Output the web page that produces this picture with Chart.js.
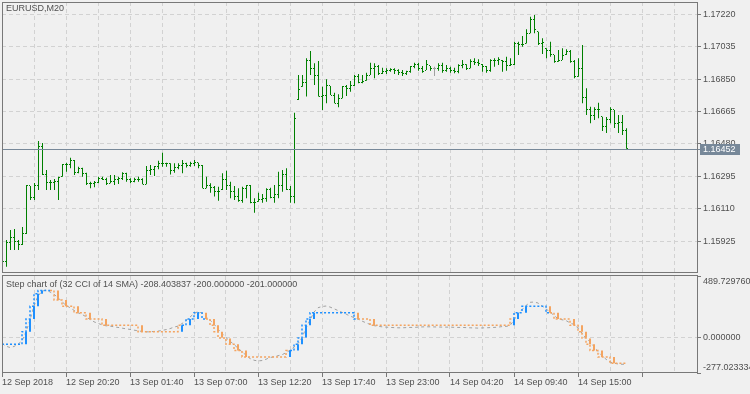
<!DOCTYPE html>
<html><head><meta charset="utf-8">
<script src="https://cdn.jsdelivr.net/npm/chart.js@4.4.1/dist/chart.umd.min.js"></script>
<style>
html,body{margin:0;padding:0;background:#f0f0f0;width:750px;height:394px;overflow:hidden;}
#wrap{position:relative;width:750px;height:394px;}
canvas{position:absolute;left:0;}
#c1{top:0}
#c2{top:274px}
.ttl{position:absolute;font:9px "Liberation Sans",Arial,sans-serif;color:#505050;white-space:nowrap;line-height:11px;}
</style></head><body>
<div id="wrap">
<canvas id="c1" width="750" height="274"></canvas>
<canvas id="c2" width="750" height="120"></canvas>
<div class="ttl" style="left:6px;top:3px">EURUSD,M20</div>
<div class="ttl" style="left:6px;top:279px">Step chart of (32 CCI of 14 SMA) -208.403837 -200.000000 -201.000000</div>
</div>
<script>
// ---------- data ----------
const timeLabels = ['12 Sep 2018','12 Sep 20:20','13 Sep 01:40','13 Sep 07:00','13 Sep 12:20','13 Sep 17:40','13 Sep 23:00','14 Sep 04:20','14 Sep 09:40','14 Sep 15:00'];
const gridBars = [0,8,16,24,32,40,48,56,64,72,80,88,96,104,112,120,128,136,144,152,160,168];
const priceTicks = [1.15925,1.16110,1.16295,1.16480,1.16665,1.16850,1.17035,1.17220];
const cciTicks = [-277.023334,0,489.72976];

const openP = [1.15840,1.15807,1.15916,1.15943,1.15922,1.15903,1.15971,1.16240,1.16173,1.16245,
1.16464,1.16308,1.16257,1.16259,1.16264,1.16293,1.16360,1.16364,1.16384,1.16318,
1.16337,1.16312,1.16255,1.16252,1.16261,1.16284,1.16278,1.16255,1.16264,1.16274,
1.16280,1.16312,1.16278,1.16264,1.16274,1.16278,1.16249,1.16331,1.16335,1.16350,
1.16369,1.16366,1.16369,1.16331,1.16344,1.16356,1.16369,1.16354,1.16369,1.16372,
1.16354,1.16227,1.16245,1.16232,1.16207,1.16217,1.16274,1.16245,1.16207,1.16179,
1.16156,1.16227,1.16240,1.16144,1.16150,1.16164,1.16169,1.16217,1.16175,1.16192,
1.16245,1.16306,1.16217,1.16179,1.16731,1.16807,1.16830,1.16959,1.16912,1.16873,
1.16750,1.16754,1.16811,1.16759,1.16712,1.16740,1.16807,1.16798,1.16816,1.16864,
1.16830,1.16841,1.16873,1.16912,1.16921,1.16883,1.16892,1.16898,1.16906,1.16902,
1.16887,1.16883,1.16896,1.16921,1.16936,1.16912,1.16902,1.16925,1.16912,1.16912,
1.16927,1.16902,1.16912,1.16902,1.16892,1.16925,1.16931,1.16912,1.16949,1.16944,
1.16936,1.16921,1.16902,1.16955,1.16959,1.16959,1.16949,1.16925,1.16931,1.17054,
1.17050,1.17054,1.17112,1.17193,1.17121,1.17054,1.17026,1.17016,1.16988,1.16949,
1.16955,1.16988,1.17007,1.16949,1.16864,1.16912,1.16746,1.16674,1.16645,1.16678,
1.16635,1.16578,1.16617,1.16674,1.16599,1.16605,1.16559];
const highP = [1.15846,1.15931,1.15988,1.15994,1.15931,1.16006,1.16245,1.16240,1.16257,1.16497,
1.16485,1.16331,1.16274,1.16280,1.16293,1.16365,1.16373,1.16401,1.16388,1.16350,
1.16344,1.16316,1.16264,1.16268,1.16293,1.16293,1.16287,1.16302,1.16302,1.16293,
1.16318,1.16316,1.16284,1.16287,1.16293,1.16284,1.16354,1.16360,1.16354,1.16384,
1.16430,1.16373,1.16369,1.16369,1.16369,1.16388,1.16373,1.16378,1.16388,1.16373,
1.16360,1.16293,1.16255,1.16240,1.16236,1.16312,1.16327,1.16264,1.16240,1.16227,
1.16236,1.16245,1.16245,1.16169,1.16201,1.16194,1.16227,1.16230,1.16245,1.16321,
1.16331,1.16341,1.16240,1.16658,1.16873,1.16873,1.16969,1.17010,1.16940,1.16953,
1.16807,1.16849,1.16811,1.16772,1.16763,1.16811,1.16816,1.16839,1.16873,1.16879,
1.16873,1.16887,1.16944,1.16940,1.16931,1.16915,1.16912,1.16912,1.16912,1.16906,
1.16902,1.16898,1.16925,1.16944,1.16944,1.16925,1.16959,1.16925,1.16921,1.16940,
1.16944,1.16931,1.16921,1.16915,1.16935,1.16959,1.16935,1.16963,1.16969,1.16963,
1.16936,1.16925,1.16963,1.16969,1.16975,1.16959,1.16978,1.16969,1.17064,1.17064,
1.17096,1.17134,1.17206,1.17216,1.17121,1.17083,1.17026,1.17064,1.16988,1.17016,
1.17026,1.17020,1.17016,1.16959,1.16969,1.17045,1.16798,1.16692,1.16689,1.16715,
1.16635,1.16634,1.16689,1.16674,1.16645,1.16645,1.16569];
const lowP = [1.15771,1.15779,1.15874,1.15874,1.15874,1.15903,1.15966,1.16160,1.16160,1.16217,
1.16302,1.16217,1.16217,1.16217,1.16160,1.16293,1.16321,1.16341,1.16302,1.16312,
1.16293,1.16245,1.16227,1.16232,1.16255,1.16274,1.16245,1.16255,1.16245,1.16251,
1.16274,1.16264,1.16255,1.16261,1.16264,1.16249,1.16249,1.16302,1.16297,1.16335,
1.16350,1.16350,1.16306,1.16316,1.16335,1.16312,1.16346,1.16350,1.16354,1.16341,
1.16227,1.16227,1.16201,1.16179,1.16156,1.16217,1.16217,1.16169,1.16160,1.16150,
1.16144,1.16169,1.16141,1.16087,1.16150,1.16144,1.16150,1.16169,1.16144,1.16169,
1.16207,1.16217,1.16144,1.16141,1.16731,1.16807,1.16750,1.16873,1.16816,1.16750,
1.16674,1.16712,1.16759,1.16712,1.16689,1.16740,1.16754,1.16778,1.16811,1.16826,
1.16826,1.16841,1.16873,1.16855,1.16873,1.16879,1.16879,1.16892,1.16879,1.16873,
1.16868,1.16873,1.16887,1.16912,1.16898,1.16887,1.16902,1.16898,1.16868,1.16898,
1.16887,1.16892,1.16887,1.16883,1.16883,1.16912,1.16902,1.16912,1.16931,1.16925,
1.16892,1.16887,1.16892,1.16921,1.16931,1.16892,1.16898,1.16925,1.16931,1.16988,
1.17035,1.17054,1.17112,1.17112,1.17045,1.16993,1.16969,1.16978,1.16944,1.16949,
1.16959,1.16988,1.16944,1.16855,1.16864,1.16712,1.16645,1.16598,1.16617,1.16626,
1.16554,1.16542,1.16598,1.16571,1.16542,1.16531,1.16452];
const closeP = [1.15807,1.15916,1.15943,1.15922,1.15903,1.15971,1.16245,1.16173,1.16245,1.16464,
1.16308,1.16257,1.16259,1.16264,1.16287,1.16360,1.16364,1.16384,1.16318,1.16337,
1.16312,1.16255,1.16252,1.16261,1.16284,1.16278,1.16255,1.16264,1.16274,1.16280,
1.16312,1.16278,1.16264,1.16274,1.16278,1.16249,1.16331,1.16335,1.16350,1.16369,
1.16366,1.16369,1.16331,1.16344,1.16356,1.16369,1.16354,1.16369,1.16372,1.16354,
1.16227,1.16245,1.16232,1.16207,1.16210,1.16274,1.16245,1.16207,1.16179,1.16156,
1.16227,1.16240,1.16144,1.16147,1.16164,1.16169,1.16217,1.16175,1.16192,1.16245,
1.16306,1.16217,1.16179,1.16626,1.16788,1.16830,1.16959,1.16912,1.16873,1.16750,
1.16754,1.16811,1.16759,1.16712,1.16740,1.16807,1.16798,1.16816,1.16864,1.16830,
1.16839,1.16873,1.16912,1.16921,1.16883,1.16892,1.16898,1.16906,1.16902,1.16887,
1.16883,1.16896,1.16921,1.16936,1.16912,1.16896,1.16931,1.16912,1.16912,1.16927,
1.16902,1.16912,1.16902,1.16892,1.16925,1.16931,1.16912,1.16949,1.16944,1.16940,
1.16921,1.16902,1.16955,1.16959,1.16962,1.16949,1.16925,1.16931,1.17054,1.17050,
1.17049,1.17112,1.17193,1.17134,1.17054,1.17058,1.17016,1.16988,1.16949,1.16955,
1.16982,1.17007,1.16949,1.16864,1.16912,1.16746,1.16674,1.16645,1.16678,1.16674,
1.16578,1.16617,1.16674,1.16599,1.16605,1.16559,1.16452];

const cciVals = [-43.7,-65.1,-75.4,-67.5,-49.2,-23.0,48.4,141.3,252.4,331.8,
369.1,379.4,363.5,345.3,318.3,286.5,258.0,238.9,218.3,199.2,
186.5,167.5,146.8,127.8,115.1,104.0,96.0,93.7,88.1,83.3,
77.8,72.2,67.5,61.9,56.4,51.6,48.4,48.4,51.6,54.0,
59.5,65.9,73.8,85.7,93.7,113.5,137.3,165.1,192.9,208.7,
196.8,170.6,141.3,109.5,69.8,34.1,2.4,-25.4,-51.6,-81.0,
-108.7,-136.5,-162.7,-176.2,-181.8,-178.6,-168.3,-154.8,-148.4,-140.5,
-132.5,-116.7,-96.8,-73.0,-45.2,2.4,77.8,141.3,204.8,238.9,
248.4,252.4,244.5,231.0,216.7,202.4,188.9,173.0,161.1,149.2,
133.3,119.8,107.1,97.6,92.1,88.1,85.7,83.3,81.7,80.2,
80.2,81.7,83.3,83.3,85.7,87.3,88.1,88.1,87.3,86.5,
85.7,85.7,85.7,84.1,83.3,83.3,81.7,80.2,79.4,77.8,
79.4,80.2,81.7,83.3,85.7,89.7,91.3,97.6,141.3,192.9,
224.6,256.4,281.8,284.1,276.2,252.4,228.6,207.2,177.0,153.2,
143.7,137.3,119.8,105.6,77.8,38.1,-1.6,-31.0,-67.5,-107.1,
-138.9,-168.3,-189.7,-200.0,-205.6,-208.0,-208.4];
const stepVals = [-50,-50,-50,-50,-50,-50,50,150,250,350,
375,375,375,375,300,300,250,250,250,200,
200,200,150,150,150,150,100,100,100,100,
100,100,100,100,100,50,50,50,50,50,
50,50,50,50,50,100,100,150,150,200,
200,150,150,100,50,0,0,-50,-50,-100,
-100,-150,-150,-150,-150,-150,-150,-150,-150,-150,
-150,-150,-100,-100,-50,0,100,150,200,200,
200,200,200,200,200,200,200,200,200,150,
150,150,150,100,100,100,100,100,100,100,
100,100,100,100,100,100,100,100,100,100,
100,100,100,100,100,100,100,100,100,100,
100,100,100,100,100,100,100,100,150,200,
200,250,250,250,250,250,250,200,200,150,
150,150,150,100,100,50,0,-50,-100,-100,
-150,-150,-150,-200,-200,-200,-200];
// 1 = rising (blue), 2 = falling (orange)
const stepState = [1,1,1,1,1,1,1,1,1,1,
1,1,2,2,2,2,2,2,2,2,
2,2,2,2,2,2,2,2,2,2,
2,2,2,2,2,2,2,2,2,2,
2,2,2,2,2,1,1,1,1,1,
1,2,2,2,2,2,2,2,2,2,
2,2,2,2,2,2,2,2,2,2,
2,2,1,1,1,1,1,1,1,1,
1,1,1,1,1,1,1,1,1,2,
2,2,2,2,2,2,2,2,2,2,
2,2,2,2,2,2,2,2,2,2,
2,2,2,2,2,2,2,2,2,2,
2,2,2,2,2,2,2,2,1,1,
1,1,1,1,1,1,1,2,2,2,
2,2,2,2,2,2,2,2,2,2,
2,2,2,2,2,2,2];

// ---------- styles ----------
const FRAME = '#787878', GRID = '#d2d2d2', TXT = '#505050';
const GREEN = '#008000', DOJI = '#a0a0a0', PRICE = '#778899';
const BLUE = '#1e90ff', ORANGE = '#f4a460', CCIGRAY = '#a0a0a0';
const FAM = '"Liberation Sans", Arial, sans-serif';
Chart.defaults.font.family = FAM;
Chart.defaults.font.size = 9;

const idx = closeP.map((_, i) => i);

const framePlugin = {
  id: 'frame',
  afterDraw(chart, args, opts) {
    const {ctx, chartArea: a} = chart;
    const t = Math.round(a.top) + (opts.topOff || 0);
    const b = Math.round(a.bottom) + (opts.botOff || 0);
    const l = Math.round(a.left), r = Math.round(a.right);
    ctx.save();
    ctx.fillStyle = FRAME;
    ctx.fillRect(l, t, r - l + 1, 1);
    ctx.fillRect(l, b, r - l + 1, 1);
    ctx.fillRect(l, t, 1, b - t + 1);
    ctx.fillRect(r, t, 1, b - t + 1);
    ctx.restore();
  }
};

const ohlcTicks = {
  id: 'ohlcTicks',
  afterDatasetsDraw(chart) {
    const xs = chart.scales.x, ys = chart.scales.y, ctx = chart.ctx, a = chart.chartArea;
    ctx.save();
    ctx.beginPath(); ctx.rect(a.left, a.top, a.right - a.left, a.bottom - a.top); ctx.clip();
    closeP.forEach((c, i) => {
      const col = Math.floor(xs.getPixelForValue(i));
      ctx.fillStyle = openP[i] === c ? DOJI : GREEN;
      ctx.fillRect(col - 1, Math.floor(ys.getPixelForValue(openP[i])), 1, 1);
      ctx.fillRect(col + 1, Math.floor(ys.getPixelForValue(c)), 1, 1);
    });
    ctx.restore();
  }
};

const priceTag = {
  id: 'priceTag',
  afterDraw(chart) {
    const ys = chart.scales.y, ctx = chart.ctx, a = chart.chartArea;
    const last = closeP[closeP.length - 1];
    const y = Math.round(ys.getPixelForValue(last));
    ctx.save();
    ctx.fillStyle = PRICE;
    ctx.fillRect(a.left, y, a.right - a.left + 3, 1);
    ctx.fillRect(a.right + 3, y - 5, 40, 11);
    ctx.fillStyle = '#ffffff';
    ctx.font = '9px ' + FAM;
    ctx.textBaseline = 'middle';
    ctx.textAlign = 'left';
    ctx.fillText(last.toFixed(5), a.right + 6, y + 0.5);
    ctx.restore();
  }
};

const baseOpts = {
  responsive: false, animation: false, devicePixelRatio: 1, events: [],
  plugins: { legend: { display: false }, tooltip: { enabled: false }, title: { display: false } }
};

// ---------- main price chart ----------
new Chart(document.getElementById('c1'), {
  type: 'bar',
  data: { datasets: [{
    type: 'bar',
    data: idx.map(i => ({ x: i, y: [lowP[i], highP[i]] })),
    backgroundColor: idx.map(i => openP[i] === closeP[i] ? DOJI : GREEN),
    borderWidth: 0, barThickness: 1, inflateAmount: 0, order: 1
  }]},
  options: Object.assign({}, baseOpts, {
    layout: { padding: { left: 2, top: 2, right: 0, bottom: 2 } },
    plugins: Object.assign({}, baseOpts.plugins, { frame: {} }),
    scales: {
      x: {
        type: 'linear', min: -0.125, max: 173.625, offset: false,
        grid: { offset: false, drawTicks: false, lineWidth: 1,
                color: c => (c.tick && c.tick.value === 0) ? 'transparent' : GRID },
        border: { display: false, dash: [4, 3] },
        ticks: { display: false },
        afterBuildTicks: s => { s.ticks = gridBars.map(v => ({ value: v })); },
        afterFit: s => { s.height = 0; s.paddingLeft = 0; s.paddingRight = 0; }
      },
      y: {
        type: 'linear', position: 'right', min: 1.157486, max: 1.172903,
        grid: { color: GRID, drawTicks: true, tickLength: 4, tickColor: FRAME, tickWidth: 1, tickBorderDash: [] },
        border: { display: false, dash: [4, 3] },
        ticks: { color: TXT, font: { size: 9, family: FAM }, padding: 2, callback: v => Number(v).toFixed(5) },
        afterBuildTicks: s => { s.ticks = priceTicks.map(v => ({ value: v })); },
        afterFit: s => { s.width = 53; s.paddingTop = 0; s.paddingBottom = 0; }
      }
    }
  }),
  plugins: [ohlcTicks, priceTag, framePlugin]
});

// ---------- indicator sub-window ----------
new Chart(document.getElementById('c2'), {
  type: 'bar',
  data: { datasets: [
    { type: 'line', data: idx.map(i => ({ x: i, y: cciVals[i] })),
      borderColor: CCIGRAY, borderWidth: 1, borderDash: [3, 3], pointRadius: 0, tension: 0, order: 3 },
    { type: 'line', data: idx.map(i => ({ x: i, y: stepVals[i] })), stepped: 'after',
      borderColor: BLUE, borderWidth: 1.5, borderDash: [2, 2], pointRadius: 0, order: 2,
      segment: { borderColor: c => stepState[c.p0DataIndex] === 1 ? BLUE : ORANGE } },
    { type: 'bar', data: idx.map(i => ({ x: i, y: [i > 0 ? stepVals[i - 1] : stepVals[i], stepVals[i]] })),
      backgroundColor: idx.map(i => stepState[i] === 1 ? BLUE : ORANGE),
      borderWidth: 0, barThickness: 2, inflateAmount: 0, order: 1 }
  ]},
  options: Object.assign({}, baseOpts, {
    layout: { padding: { left: 2, top: 2, right: 0, bottom: 0 } },
    plugins: Object.assign({}, baseOpts.plugins, { frame: { topOff: -1, botOff: -1 } }),
    scales: {
      x: {
        type: 'linear', min: 0, max: 173.75, offset: false,
        grid: { offset: false, drawTicks: true, tickLength: 4, lineWidth: 1, tickBorderDash: [],
                color: c => (c.tick && c.tick.value === 0) ? 'transparent' : GRID,
                tickColor: c => (c.tick && c.tick.value % 16 === 0) ? FRAME : 'transparent' },
        border: { display: false, dash: [4, 3] },
        ticks: { display: true, color: TXT, font: { size: 9, family: FAM }, padding: 0, align: 'start',
                 autoSkip: false, maxRotation: 0, minRotation: 0,
                 callback: v => (v % 16 === 0 && timeLabels[v / 16]) ? timeLabels[v / 16] : '' },
        afterBuildTicks: s => { s.ticks = gridBars.map(v => ({ value: v })); },
        afterFit: s => { s.height = 21; s.paddingLeft = 0; s.paddingRight = 0; }
      },
      y: {
        type: 'linear', position: 'right', min: cciTicks[0], max: cciTicks[2],
        grid: { drawTicks: true, tickLength: 4, tickColor: FRAME, tickWidth: 1, tickBorderDash: [],
                color: c => (c.tick && c.tick.value === 0) ? GRID : 'transparent' },
        border: { display: false, dash: [4, 3] },
        ticks: { color: TXT, font: { size: 9, family: FAM }, padding: 2,
                 callback: (v, i, arr) => {
                   const s = Number(v).toFixed(6);
                   if (i === 0) return [s, ''];
                   if (i === arr.length - 1) return ['', s];
                   return s;
                 } },
        afterBuildTicks: s => { s.ticks = cciTicks.map(v => ({ value: v })); },
        afterFit: s => { s.width = 53; s.paddingTop = 0; s.paddingBottom = 0; }
      }
    }
  }),
  plugins: [framePlugin]
});
</script>
</body></html>
